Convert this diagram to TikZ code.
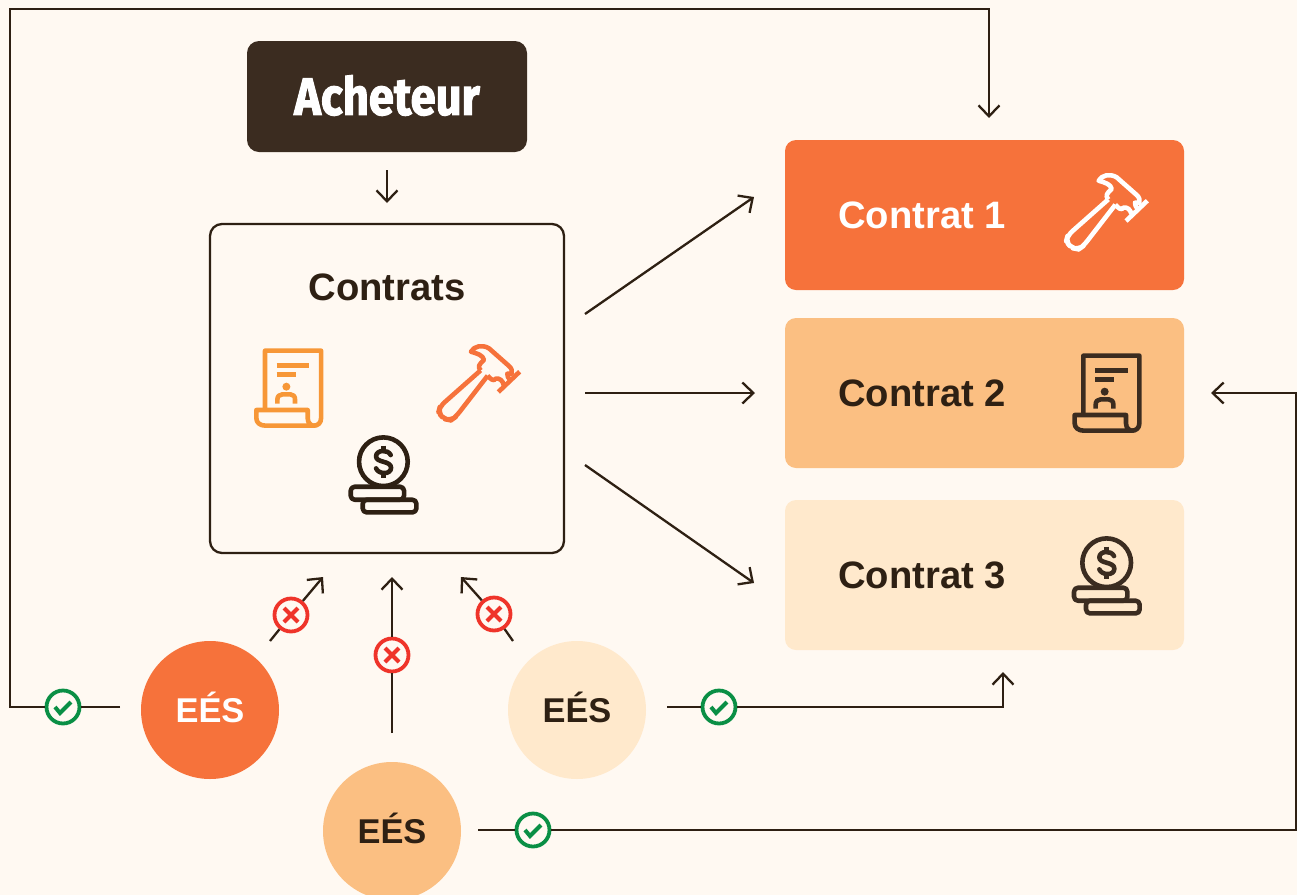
\documentclass[tikz,border=0pt]{standalone}
\usepackage{fontspec}
\usetikzlibrary{arrows.meta,calc}
\setmainfont{Liberation Sans}
\newfontfamily\labfont{Liberation Sans}
\newfontfamily\headfont{Fira Sans}[FakeBold=2.2]
\definecolor{bgc}{HTML}{FFF9F2}
\definecolor{ink}{HTML}{2E2013}
\definecolor{boxdark}{HTML}{3B2C20}
\definecolor{orangeA}{HTML}{F6723B}
\definecolor{orangeB}{HTML}{FBBF82}
\definecolor{orangeC}{HTML}{FFE9CC}
\definecolor{iconorange}{HTML}{F79737}
\definecolor{crossred}{HTML}{EF342A}
\definecolor{checkgreen}{HTML}{0A8F45}
\tikzset{
  conn/.style={draw=ink,line width=1.15pt},
  arr/.style={conn,-{Straight Barb[length=5.5pt,width=10.5pt,line width=1.15pt]}},
  contract/.style={rectangle,rounded corners=5.5pt,minimum width=199.5pt,minimum height=75pt,inner sep=0pt},
  clabel/.style={font=\labfont\bfseries\fontsize{19.1}{22}\selectfont,anchor=base west,inner sep=0pt},
  ees/.style={circle,minimum size=69pt,inner sep=0pt},
  eestext/.style={font=\labfont\bfseries\fontsize{17.2}{20}\selectfont,inner sep=0pt},
  badge/.style={circle,draw=#1,fill=bgc,line width=1.9pt,minimum size=16.5pt,inner sep=0pt},
  icon/.style={line width=2.3pt,line join=round,line cap=butt},
}
\newcommand{\hammericon}[3]{%
\begin{scope}[shift={(#1,#2)},x=0.1667pt,y=-0.1667pt,icon,draw=#3]
\draw[rounded corners=3pt] (205,118) -- (83,226) -- (78,245) -- (95,264) -- (116,268) -- (130,258) -- (226,134);
\draw (205,118) .. controls (195,108) and (200,100) .. (215,87)
  .. controls (212,72) and (195,68) .. (176,62)
  .. controls (185,45) and (210,40) .. (230,52)
  -- (290,105) .. controls (298,112) and (300,120) .. (298,128)
  -- (285,128) .. controls (282,138) and (290,140) .. (296,148);
\draw (226,134) .. controls (235,145) and (245,152) .. (250,143)
  .. controls (262,140) and (272,150) .. (274,162);
\draw (258,183) -- (322,122);
\end{scope}}
\newcommand{\docicon}[3]{%
\begin{scope}[shift={(#1,#2)},x=0.1667pt,y=-0.1667pt,icon,draw=#3,fill=none]
\draw (100,225) -- (100,47) -- (268,47) -- (268,250) .. controls (268,264) and (258,272) .. (246,272);
\draw (74,225) -- (228,225) -- (228,250) .. controls (228,264) and (238,272) .. (246,272) -- (102,272) .. controls (84,272) and (74,262) .. (74,250) -- cycle;
\draw (135,91) -- (233,91);
\draw (135,118) -- (192,118);
\fill[#3] (164,155) circle (12);
\draw (137,206) -- (137,194) .. controls (137,184) and (143,178) .. (152,178) -- (176,178) .. controls (185,178) and (190,184) .. (190,194) -- (190,206);
\end{scope}}
\newcommand{\coinicon}[3]{%
\begin{scope}[shift={(#1,#2)},x=0.1667pt,y=-0.1667pt,icon,draw=#3,fill=none]
\draw (170,668) circle (73);
\draw[rounded corners=2pt] (72,743) rectangle (232,782);
\draw[rounded corners=2pt] (108,782) rectangle (269,820);
\draw[line cap=round] (192,648) .. controls (184,630) and (148,632) .. (148,652) .. controls (148,672) and (193,664) .. (193,686) .. controls (193,708) and (155,706) .. (148,688);
\draw (170,620) -- (170,634);
\draw (170,702) -- (170,716);
\end{scope}}
\newcommand{\crossmark}[2]{%
\draw[crossred,line width=2.1pt] ($(#1)+(-#2,-#2)$) -- ($(#1)+(#2,#2)$);
\draw[crossred,line width=2.1pt] ($(#1)+(-#2,#2)$) -- ($(#1)+(#2,-#2)$);}
\newcommand{\checkmarkicon}[1]{%
\draw[checkgreen,line width=2pt,line join=miter] ($(#1)+(-8,0)$) -- ($(#1)+(-3,6)$) -- ($(#1)+(8,-5)$);}
\begin{document}
\begin{tikzpicture}[x=0.5pt,y=-0.5pt]
\useasboundingbox (0,0) rectangle (1297,895);
\fill[bgc] (0,0) rectangle (1297,895);

% main nodes
\node[fill=boxdark,rounded corners=6pt,minimum width=140pt,minimum height=55.5pt,inner sep=0pt] (buyer) at (387,96.5)
  {\raisebox{1.5pt}{\scalebox{0.84}[0.97]{\color{white}\headfont\bfseries\fontsize{27}{30}\selectfont Acheteur}}};
\node[draw=ink,line width=1.15pt,rounded corners=6pt,minimum width=177pt,minimum height=164.5pt,inner sep=0pt,fill=bgc] (contracts) at (387,388.5) {};
\node[font=\labfont\bfseries\fontsize{19.1}{22}\selectfont,text=ink,inner sep=0pt] (ctitle) at (387,287) {Contrats};
\node[contract,fill=orangeA] (c1) at (984.5,215) {};
\node[contract,fill=orangeB] (c2) at (984.5,393) {};
\node[contract,fill=orangeC] (c3) at (984.5,575) {};
\node[clabel,text=white] (c1t) at (838,228) {Contrat 1};
\node[clabel,text=ink] (c2t) at (838,406) {Contrat 2};
\node[clabel,text=ink] (c3t) at (838,588) {Contrat 3};
\node[ees,fill=orangeA] (e1) at (210,710) {};
\node[ees,fill=orangeC] (e3) at (577,710) {};
\node[ees,fill=orangeB] (e2) at (392,831) {};
\node[eestext,text=white] (e1t) at (210,707) {EÉS};
\node[eestext,text=ink] (e3t) at (577,707) {EÉS};
\node[eestext,text=ink] (e2t) at (392,828) {EÉS};

% icons
\hammericon{1040}{160}{white}
\hammericon{412.3}{331}{orangeA}
\docicon{1050}{340}{boxdark}
\docicon{231.7}{335}{iconorange}
\coinicon{1050}{340}{boxdark}
\coinicon{326.7}{239}{ink}

% badges
\node[badge=crossred] (x1) at (291,615) {};
\node[badge=crossred] (x2) at (392,655) {};
\node[badge=crossred] (x3) at (494,614) {};
\node[badge=checkgreen] (k1) at (63,707) {};
\node[badge=checkgreen] (k2) at (533,830) {};
\node[badge=checkgreen] (k3) at (719,707) {};
\crossmark{x1}{7}
\crossmark{x2}{7}
\crossmark{x3}{7}
\checkmarkicon{k1}
\checkmarkicon{k2}
\checkmarkicon{k3}

% connector ends
\coordinate (buyerout) at (387,170);
\coordinate (buyerin) at (387,203);
\coordinate (bo1) at (585,314);
\coordinate (bo2) at (585,393);
\coordinate (bo3) at (585,465);
\coordinate (ci1) at (754,197);
\coordinate (ci2) at (755,393);
\coordinate (ci3) at (754,583);
\coordinate (r1s) at (270,641);
\coordinate (r1e) at (323,577);
\coordinate (r2s) at (392,733);
\coordinate (r2e) at (392,577);
\coordinate (r3s) at (513,641);
\coordinate (r3e) at (461,577);
\coordinate (l1s) at (120,707);
\coordinate (l1a) at (10,707);
\coordinate (l1b) at (10,9);
\coordinate (l1c) at (989,9);
\coordinate (l1e) at (989,118);
\coordinate (l3s) at (667,707);
\coordinate (l3a) at (1003,707);
\coordinate (l3e) at (1003,672);
\coordinate (l2s) at (478,830);
\coordinate (l2a) at (1296,830);
\coordinate (l2b) at (1296,393);
\coordinate (l2e) at (1211,393);

% connectors
\draw[arr] (buyerout) -- (buyerin);
\draw[arr] (bo1) -- (ci1);
\draw[arr] (bo2) -- (ci2);
\draw[arr] (bo3) -- (ci3);
\draw[conn] (r1s) -- (x1);
\draw[arr] (x1) -- (r1e);
\draw[conn] (r2s) -- (x2);
\draw[arr] (x2) -- (r2e);
\draw[conn] (r3s) -- (x3);
\draw[arr] (x3) -- (r3e);
\draw[conn] (l1s) -- (k1);
\draw[arr] (k1) -- (l1a) -- (l1b) -- (l1c) -- (l1e);
\draw[conn] (l3s) -- (k3);
\draw[arr] (k3) -- (l3a) -- (l3e);
\draw[conn] (l2s) -- (k2);
\draw[arr] (k2) -- (l2a) -- (l2b) -- (l2e);
\end{tikzpicture}
\end{document}
